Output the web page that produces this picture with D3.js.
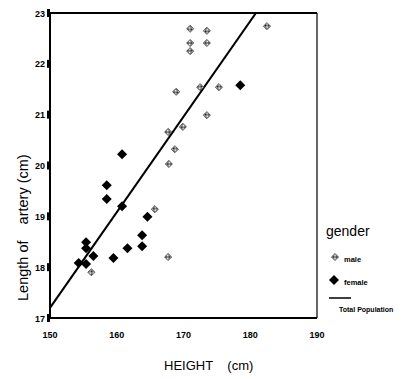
<!DOCTYPE html>
<html>
<head>
<meta charset="utf-8">
<script src="https://cdn.jsdelivr.net/npm/d3@7"></script>
<style>
  body { margin: 0; background: #fff; }
  text { font-family: "Liberation Sans", Arial, sans-serif; }
</style>
</head>
<body>
<svg id="chart" width="414" height="379"></svg>
<script>
// male points (height cm, artery length cm)
const maleHeight = [171, 173.5, 171, 173.5, 171, 168.9, 172.5, 175.3, 173.5, 167.7, 169.9, 168.7, 167.8, 182.5, 165.7, 167.7, 156.2];
const maleLength = [22.69, 22.65, 22.41, 22.41, 22.25, 21.45, 21.54, 21.54, 20.99, 20.66, 20.76, 20.32, 20.03, 22.74, 19.14, 18.2, 17.9];
// female points
const femaleHeight = [160.8, 158.5, 158.5, 160.8, 164.6, 163.8, 163.8, 161.6, 159.5, 155.4, 155.4, 156.5, 154.3, 155.4, 178.5];
const femaleLength = [20.22, 19.61, 19.34, 19.2, 18.99, 18.63, 18.41, 18.37, 18.18, 18.49, 18.37, 18.22, 18.08, 18.06, 21.58];
// total population fit line
const fitIntercept = 17.2; // length at height 150
const fitSlope = 0.188;
const xTicks = [150, 160, 170, 180, 190];
const yTicks = [17, 18, 19, 20, 21, 22, 23];

const svg = d3.select("#chart");
const x = d3.scaleLinear().domain([150, 190]).range([50, 317]);
const y = d3.scaleLinear().domain([17, 23]).range([318, 13]);

const defs = svg.append("defs");
const pat = defs.append("pattern").attr("id", "hatch")
    .attr("width", 2).attr("height", 2).attr("patternUnits", "userSpaceOnUse");
pat.append("rect").attr("width", 2).attr("height", 2).attr("fill", "#fff");
pat.append("rect").attr("width", 1).attr("height", 1).attr("fill", "#111");
pat.append("rect").attr("x", 1).attr("y", 1).attr("width", 1).attr("height", 1).attr("fill", "#111");
defs.append("clipPath").attr("id", "plotclip").append("rect")
    .attr("x", 50).attr("y", 13).attr("width", 267).attr("height", 305);

// frame
svg.append("line").attr("x1", 50).attr("x2", 317).attr("y1", 13).attr("y2", 13).attr("stroke", "#000").attr("stroke-width", 2.2);
svg.append("line").attr("x1", 50).attr("x2", 317).attr("y1", 318).attr("y2", 318).attr("stroke", "#000").attr("stroke-width", 2);
svg.append("line").attr("x1", 50).attr("x2", 50).attr("y1", 12).attr("y2", 319).attr("stroke", "#000").attr("stroke-width", 2);
svg.append("line").attr("x1", 317).attr("x2", 317).attr("y1", 13).attr("y2", 318).attr("stroke", "#000").attr("stroke-width", 1.2);

// y ticks: small block marks
svg.selectAll(".ytick").data(yTicks).enter().append("rect")
    .attr("x", 47).attr("y", d => y(d) - 4).attr("width", 3).attr("height", 8).attr("fill", "#000");
svg.selectAll(".ylab").data(yTicks).enter().append("text")
    .attr("x", 45).attr("y", d => y(d) + 3.5).attr("text-anchor", "end")
    .attr("font-size", 9).attr("font-weight", "bold").text(d => d);
svg.selectAll(".xlab").data(xTicks).enter().append("text")
    .attr("x", d => x(d)).attr("y", 338).attr("text-anchor", "middle")
    .attr("font-size", 9).attr("font-weight", "bold").text(d => d);

// fit line
svg.append("line").attr("clip-path", "url(#plotclip)")
    .attr("x1", x(150)).attr("y1", y(fitIntercept))
    .attr("x2", x(190)).attr("y2", y(fitIntercept + fitSlope * 40))
    .attr("stroke", "#000").attr("stroke-width", 2);

const maleSym = d3.symbol().type(d3.symbolSquare).size(26);
const femaleSym = d3.symbol().type(d3.symbolSquare).size(50);

svg.selectAll(".male").data(maleHeight).enter().append("path")
    .attr("d", maleSym)
    .attr("transform", (d, i) => `translate(${x(d)},${y(maleLength[i])}) rotate(45)`)
    .attr("fill", "url(#hatch)").attr("stroke", "#444").attr("stroke-width", 0.7);

svg.selectAll(".female").data(femaleHeight).enter().append("path")
    .attr("d", femaleSym)
    .attr("transform", (d, i) => `translate(${x(d)},${y(femaleLength[i])}) rotate(45)`)
    .attr("fill", "#000");

// axis titles
svg.append("text").attr("transform", "translate(28,301) rotate(-90)")
    .attr("font-size", 14.5)
    .style("white-space", "pre").text("Length of    artery (cm)");
svg.append("text").attr("x", 164).attr("y", 370)
    .attr("font-size", 13).style("white-space", "pre").text("HEIGHT    (cm)");

// legend
svg.append("text").attr("x", 326).attr("y", 236).attr("font-size", 14).text("gender");
svg.append("path").attr("d", maleSym).attr("transform", "translate(335,257) rotate(45)")
    .attr("fill", "url(#hatch)").attr("stroke", "#444").attr("stroke-width", 0.7);
svg.append("text").attr("x", 344).attr("y", 262).attr("font-size", 7.5).attr("font-weight", "bold").text("male");
svg.append("path").attr("d", femaleSym).attr("transform", "translate(334,280) rotate(45)").attr("fill", "#000");
svg.append("text").attr("x", 344).attr("y", 285).attr("font-size", 7.5).attr("font-weight", "bold").text("female");
svg.append("line").attr("x1", 329).attr("x2", 351).attr("y1", 298).attr("y2", 298).attr("stroke", "#000").attr("stroke-width", 1.5);
svg.append("text").attr("x", 339).attr("y", 312).attr("font-size", 7).attr("font-weight", "bold").text("Total Population");
</script>
</body>
</html>
